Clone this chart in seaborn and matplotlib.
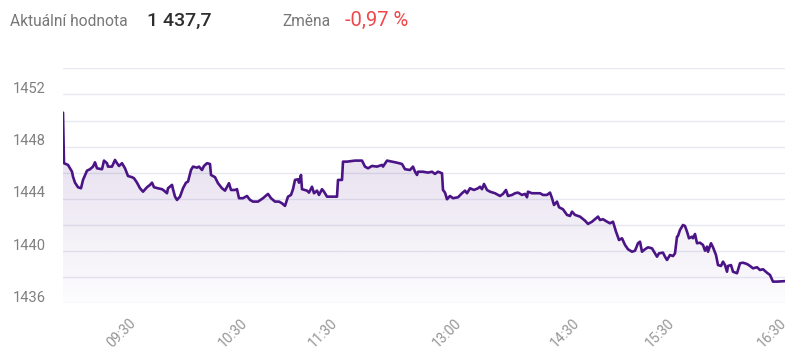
import numpy as np
import pandas as pd
import matplotlib
matplotlib.use("Agg")
import matplotlib.pyplot as plt
import seaborn as sns
from matplotlib.transforms import ScaledTranslation
from matplotlib.colors import to_rgb

# ---- data ----
t = [0, 1, 5, 9, 10, 12, 15, 18, 20, 24, 27, 30, 32, 34, 39, 41, 44, 45, 49, 52,
     54, 56, 59, 62, 65, 69, 71, 74, 77, 80, 84, 87, 89, 91, 95, 99, 101, 104, 105, 109,
     110, 112, 114, 117, 120, 123, 125, 128, 130, 134, 136, 139, 141, 144, 147,
     148, 152, 155, 159, 162, 166, 168, 172, 174, 176, 180, 184, 187, 190, 195,
     200, 205, 208, 212, 216, 219, 222, 225, 228, 230, 232, 235, 236, 238, 239,
     244, 246, 249, 251, 254, 256, 259, 261, 264, 274, 275, 279, 280, 284, 292, 299,
     302, 305, 309, 314, 319, 320, 324, 329, 334, 339, 342, 347, 350, 352, 354, 355,
     360, 365, 369, 372, 375, 379, 380, 382, 384, 387, 390, 395, 399, 402, 404, 407,
     411, 415, 417, 419, 421, 424, 427, 432, 437,
     440, 443, 445, 449, 452, 455, 459, 462, 464, 465, 469, 477, 480, 484, 487, 489,
     491, 494, 496, 500, 504, 507, 509, 512, 517, 522, 525, 529, 532, 535, 537, 540,
     544, 547, 550, 553, 556, 559, 562, 565, 569, 572, 575, 577, 579, 582, 585, 589,
     592, 594, 596, 600, 602, 604, 607, 610, 612, 614, 615, 617, 620, 622, 624, 626,
     629, 630, 632, 634, 637, 640, 642, 644, 645, 648, 650, 653, 655, 658, 660, 662,
     664, 665, 668, 670, 674, 675, 677, 680, 684, 687, 690, 694, 697, 700, 704, 707,
     710, 714, 722]
price = [1450.60, 1446.73, 1446.60, 1446.08, 1445.70, 1445.24, 1444.89, 1444.81, 1445.45, 1446.16,
         1446.27, 1446.47, 1446.80, 1446.34, 1446.27, 1446.93, 1446.73, 1446.47, 1446.47, 1446.98,
         1446.73, 1446.52, 1446.73, 1446.34, 1445.75, 1445.66, 1445.58, 1445.24, 1444.81, 1444.55,
         1444.89, 1445.07, 1445.24, 1444.89, 1444.81, 1444.74, 1444.63, 1444.43, 1444.81, 1445.07,
         1444.74, 1444.17, 1443.92, 1444.17, 1444.81, 1445.24, 1445.32, 1446.21, 1446.47, 1446.39,
         1446.47, 1446.21, 1446.52, 1446.73, 1446.67,
         1445.83, 1445.66, 1445.20, 1444.81, 1444.63, 1445.20, 1444.68, 1444.68, 1444.74, 1444.05,
         1444.05, 1444.22, 1443.92, 1443.79, 1443.79, 1444.05, 1444.38, 1444.05, 1443.79, 1443.79,
         1443.66, 1443.46, 1444.17, 1444.30, 1444.74, 1445.45, 1445.50, 1445.24, 1445.83, 1444.74,
         1444.63, 1444.48, 1444.93, 1444.43, 1444.63, 1444.30, 1444.74, 1444.55, 1444.17, 1444.17,
         1445.45, 1445.45, 1446.85, 1446.85, 1446.93, 1446.93,
         1446.47, 1446.34, 1446.52, 1446.47, 1446.60, 1446.47, 1446.93, 1446.85, 1446.77, 1446.67,
         1446.27, 1446.21, 1446.47, 1446.08, 1445.83, 1446.08, 1446.08, 1446.01, 1446.08, 1445.91,
         1446.08, 1445.96, 1444.68, 1444.48, 1443.97, 1444.22, 1444.05, 1444.12, 1444.43, 1444.63,
         1444.43, 1444.81, 1444.68, 1444.81, 1444.93, 1444.74, 1445.14, 1444.68, 1444.55, 1444.43,
         1444.22,
         1444.38, 1444.68, 1444.22, 1444.30, 1444.43, 1444.48, 1444.30, 1444.38, 1444.12, 1444.55,
         1444.43, 1444.43, 1444.30, 1444.30, 1444.48, 1444.05, 1443.53, 1443.79, 1443.36, 1443.20,
         1442.77, 1442.69, 1443.02, 1442.77, 1442.64, 1442.33, 1442.08, 1442.25, 1442.44, 1442.64,
         1442.38, 1442.44, 1442.25, 1442.13, 1442.25, 1441.49, 1440.85, 1440.98, 1440.47, 1440.14,
         1439.95, 1440.03, 1440.60, 1440.72, 1439.95, 1440.14, 1440.29, 1440.21, 1439.83, 1439.57,
         1439.83, 1439.88, 1439.57, 1439.32, 1439.70, 1439.62, 1439.83, 1441.10, 1441.16, 1441.62,
         1442.00, 1441.92, 1441.49, 1440.98, 1441.10, 1440.98, 1441.31, 1440.60, 1440.64, 1440.47,
         1440.03, 1440.34, 1439.95, 1440.60, 1440.29, 1439.70, 1438.93, 1438.86, 1439.19, 1438.93,
         1438.42, 1438.86, 1438.93, 1438.42, 1438.30, 1438.55, 1439.07, 1439.11, 1439.01, 1438.86,
         1438.68, 1438.76, 1438.55, 1438.61, 1438.34, 1438.17, 1437.66, 1437.66, 1437.70]

x_tick_pos = [71, 182, 272, 396, 514, 609, 721]
x_tick_labels = ["09:30", "10:30", "11:30", "13:00", "14:30", "15:30", "16:30"]
y_grid = [1436, 1438, 1440, 1442, 1444, 1446, 1448, 1450, 1452, 1454]
y_tick_labels = ["1436", "", "1440", "", "1444", "", "1448", "", "1452", ""]

header_label_1 = "Aktuální hodnota"
header_value_1 = "1 437,7"
header_label_2 = "Změna"
header_value_2 = "-0,97 %"

# ---- style ----
sns.set_theme(style="white")
plt.rcParams["font.family"] = ["Roboto", "DejaVu Sans"]

W, H = 800, 359
fig = plt.figure(figsize=(W / 100, H / 100), dpi=100)
ax = fig.add_axes([63 / W, 1 - 303.3 / H, 722 / W, 235 / H])

line_color = "#4a1486"
df = pd.DataFrame({"t": t, "price": price})
sns.lineplot(data=df, x="t", y="price", ax=ax, color=line_color, lw=1.9, zorder=4)

# gradient fill under the line
poly = ax.fill_between(df["t"], df["price"], y_grid[0], color="none", lw=0)
r, g, b = to_rgb(line_color)
n = 256
alphas = np.linspace(0.015, 0.17, n)
img = np.zeros((n, 1, 4))
img[:, 0, 0], img[:, 0, 1], img[:, 0, 2] = r, g, b
img[:, 0, 3] = alphas
im = ax.imshow(img, extent=[0, 722, y_grid[0], 1451.5], origin="lower",
               aspect="auto", zorder=2, interpolation="bilinear")
im.set_clip_path(poly.get_paths()[0], transform=ax.transData)

ax.set_xlim(0, 722)
ax.set_ylim(y_grid[0], y_grid[-1])
ax.set_yticks(y_grid)
ax.set_yticklabels(y_tick_labels)
ax.set_xticks(x_tick_pos)
ax.set_xticklabels(x_tick_labels)
ax.set_xlabel("")
ax.set_ylabel("")

ax.set_axisbelow(True)
ax.yaxis.grid(True, color="#e6e9f0", lw=1.0)
ax.xaxis.grid(False)
for s in ax.spines.values():
    s.set_visible(False)

ax.tick_params(axis="y", length=0, pad=12.5, labelsize=10.5, labelcolor="#808080")
ax.tick_params(axis="x", length=0, pad=13, labelsize=10, labelcolor="#959595")
off = ScaledTranslation(0, 7 / 100, fig.dpi_scale_trans)
for lab in ax.get_yticklabels():
    lab.set_transform(lab.get_transform() + off)
for lab in ax.get_xticklabels():
    lab.set_rotation(45)
    lab.set_ha("right")
    lab.set_va("center")
    lab.set_rotation_mode("anchor")

# header
yb = 1 - 26 / H
fig.text(10 / W, yb, header_label_1, fontsize=11.2, color="#777777", va="baseline")
fig.text(147 / W, yb, header_value_1, fontsize=14, color="#2e2e2e", va="baseline",
         fontweight="medium")
fig.text(282 / W, yb, header_label_2, fontsize=11.2, color="#777777", va="baseline")
fig.text(345 / W, yb, header_value_2, fontsize=14.5, color="#f0474b", va="baseline")

fig.savefig("out.png", dpi=100)
